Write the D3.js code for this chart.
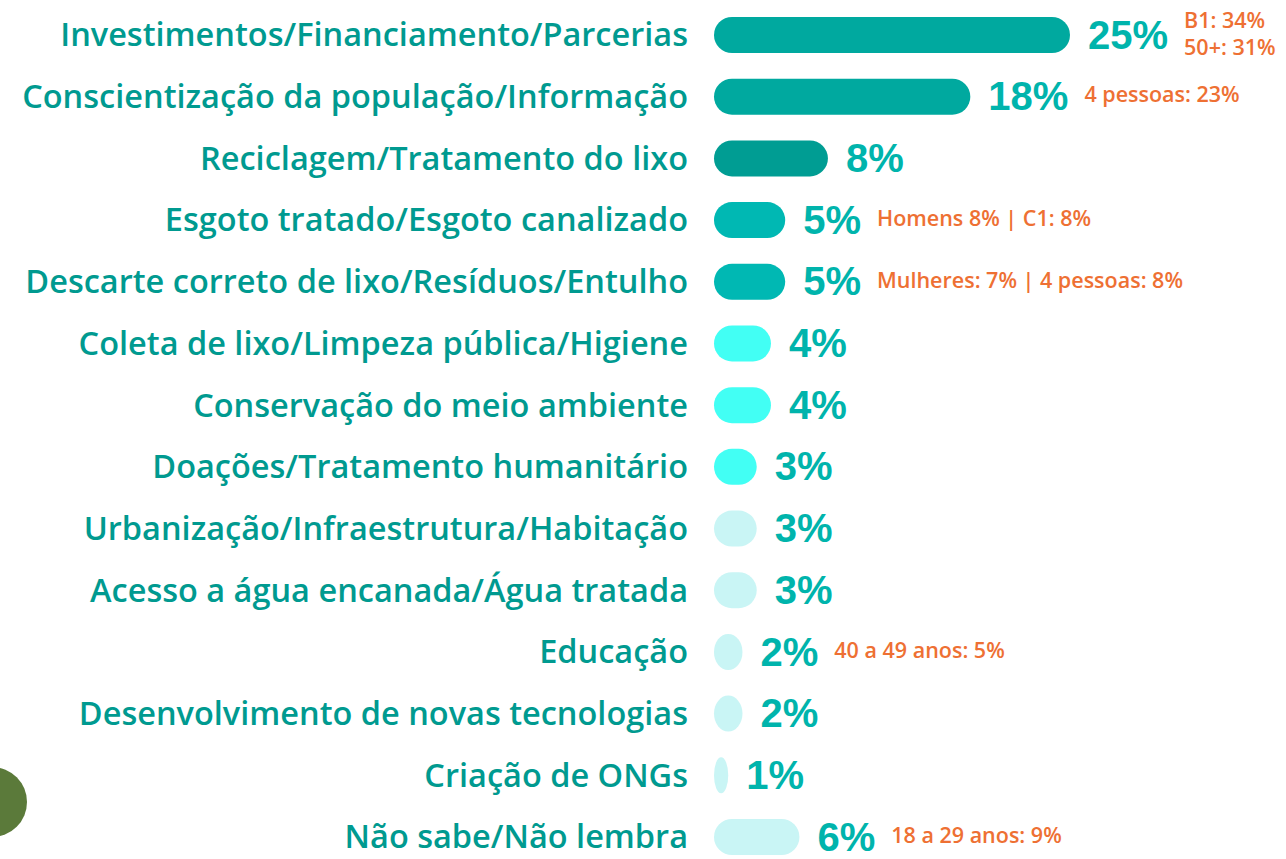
<!DOCTYPE html>
<html>
<head>
<meta charset="utf-8">
<script src="https://cdn.jsdelivr.net/npm/d3@7"></script>
<style>
  html, body { margin: 0; padding: 0; background: #ffffff; }
  svg { display: block; }
</style>
</head>
<body>
<svg id="chart" width="1286" height="859"></svg>
<script>
const categories = [
  "Investimentos/Financiamento/Parcerias",
  "Conscientização da população/Informação",
  "Reciclagem/Tratamento do lixo",
  "Esgoto tratado/Esgoto canalizado",
  "Descarte correto de lixo/Resíduos/Entulho",
  "Coleta de lixo/Limpeza pública/Higiene",
  "Conservação do meio ambiente",
  "Doações/Tratamento humanitário",
  "Urbanização/Infraestrutura/Habitação",
  "Acesso a água encanada/Água tratada",
  "Educação",
  "Desenvolvimento de novas tecnologias",
  "Criação de ONGs",
  "Não sabe/Não lembra"
];
const values = [25, 18, 8, 5, 5, 4, 4, 3, 3, 3, 2, 2, 1, 6];
const valueLabels = ["25%", "18%", "8%", "5%", "5%", "4%", "4%", "3%", "3%", "3%", "2%", "2%", "1%", "6%"];
const barColors = ["#00A99F", "#00A99F", "#009D93", "#00B8B3", "#00B8B3",
  "#42FFF4", "#42FFF4", "#42FFF4", "#C9F5F5", "#C9F5F5", "#C9F5F5", "#C9F5F5", "#C9F5F5", "#C9F5F5"];
const annotations = [
  ["B1: 34%", "50+: 31%"],
  ["4 pessoas: 23%"],
  [],
  ["Homens 8% | C1: 8%"],
  ["Mulheres: 7% | 4 pessoas: 8%"],
  [], [], [], [], [],
  ["40 a 49 anos: 5%"],
  [], [],
  ["18 a 29 anos: 9%"]
];

const svg = d3.select("#chart");
const barX0 = 714;
const barH = 36;

const x = d3.scaleLinear().domain([0, 25]).range([0, 356]);
const y = d3.scalePoint().domain(categories).range([35, 837]);

// decorative circle
svg.append("circle").attr("cx", -8).attr("cy", 802).attr("r", 35).attr("fill", "#5B7A3A");

const rows = svg.selectAll("g.row")
  .data(categories.map((c, i) => ({ c, v: values[i], lab: valueLabels[i], col: barColors[i], ann: annotations[i] })))
  .join("g").attr("class", "row")
  .attr("transform", d => `translate(0,${y(d.c)})`);

rows.append("text")
  .attr("x", 688)
  .attr("y", 0)
  .attr("dy", "0.35em")
  .attr("text-anchor", "end")
  .attr("font-family", "'Open Sans', sans-serif")
  .attr("font-weight", 600)
  .attr("font-size", 32.5)
  .attr("fill", "#009A90")
  .text(d => d.c);

rows.append("rect")
  .attr("x", barX0)
  .attr("y", -barH / 2)
  .attr("width", d => x(d.v))
  .attr("height", barH)
  .attr("rx", d => Math.min(x(d.v) / 2, barH / 2))
  .attr("ry", barH / 2)
  .attr("fill", d => d.col);

const vl = rows.append("text")
  .attr("x", d => barX0 + x(d.v) + 18)
  .attr("y", 0)
  .attr("dy", "0.34em")
  .attr("font-family", "'Liberation Sans', Arial, sans-serif")
  .attr("font-weight", 700)
  .attr("font-size", 40)
  .attr("fill", "#00B4AC")
  .text(d => d.lab);

vl.each(function(d) {
  const w = this.getComputedTextLength();
  const ax = barX0 + x(d.v) + 18 + w + 16;
  const g = d3.select(this.parentNode);
  const n = d.ann.length;
  d.ann.forEach((t, k) => {
    g.append("text")
      .attr("x", ax)
      .attr("y", n === 1 ? -2 : (k === 0 ? -15 : 12))
      .attr("dy", "0.36em")
      .attr("font-family", "'Open Sans', sans-serif")
      .attr("font-weight", 600)
      .attr("font-size", 21.5)
      .attr("fill", "#EE7033")
      .text(t);
  });
});
</script>
</body>
</html>
